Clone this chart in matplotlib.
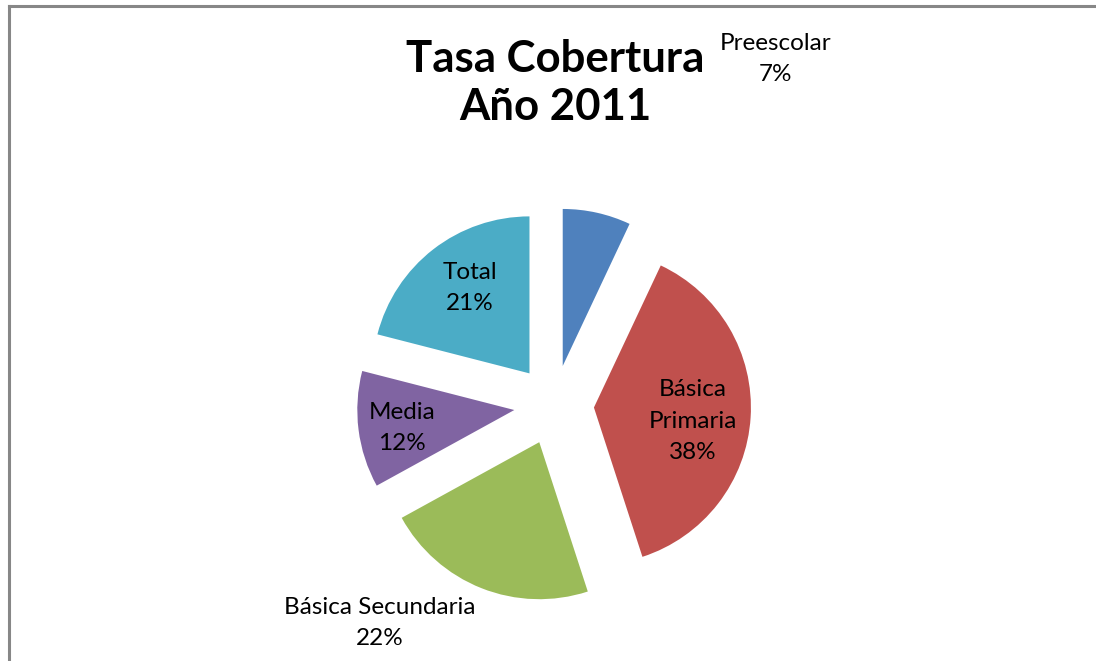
import matplotlib.pyplot as plt
from matplotlib.lines import Line2D

categories = ["Preescolar", "Básica\nPrimaria", "Básica Secundaria", "Media", "Total"]
shares = [7, 38, 22, 12, 21]
colors = ["#4F81BD", "#C0504D", "#9BBB59", "#8064A2", "#4BACC6"]
# label centres in pixels (x from left, y from top)
label_pos = [(776, 59), (693, 421), (380, 623), (402, 428), (470, 288)]

W, H = 1096, 661
plt.rcParams["font.family"] = ["Lato", "DejaVu Sans"]

fig = plt.figure(figsize=(W / 100, H / 100), dpi=100)
ax = fig.add_axes([0, 0, 1, 1])

cx, cy, r = 554, H - 405, 157
ax.pie(shares, colors=colors, startangle=90, counterclock=False,
       center=(cx, cy), radius=r, explode=[40] * len(shares),
       wedgeprops=dict(linewidth=0), frame=False)
ax.set_xlim(0, W)
ax.set_ylim(0, H)
ax.set_aspect("equal")
ax.axis("off")

for cat, val, (lx, ly) in zip(categories, shares, label_pos):
    ax.text(lx, H - ly, f"{cat}\n{val}%", ha="center", va="center",
            fontsize=17.5, linespacing=1.6, color="black")

ax.text(555, H - 83, "Tasa Cobertura\nAño 2011", ha="center", va="center",
        fontsize=31.5, fontweight="bold", linespacing=1.25)

# chart frame (cropped on the right and bottom)
edge = "#878787"
fig.add_artist(Line2D([9 / W, 9 / W], [0, 1 - 6 / H], color=edge, lw=2.2,
                      transform=fig.transFigure))
fig.add_artist(Line2D([9 / W, 1], [1 - 6 / H, 1 - 6 / H], color=edge, lw=2.2,
                      transform=fig.transFigure))

fig.savefig("out.png", dpi=100)
